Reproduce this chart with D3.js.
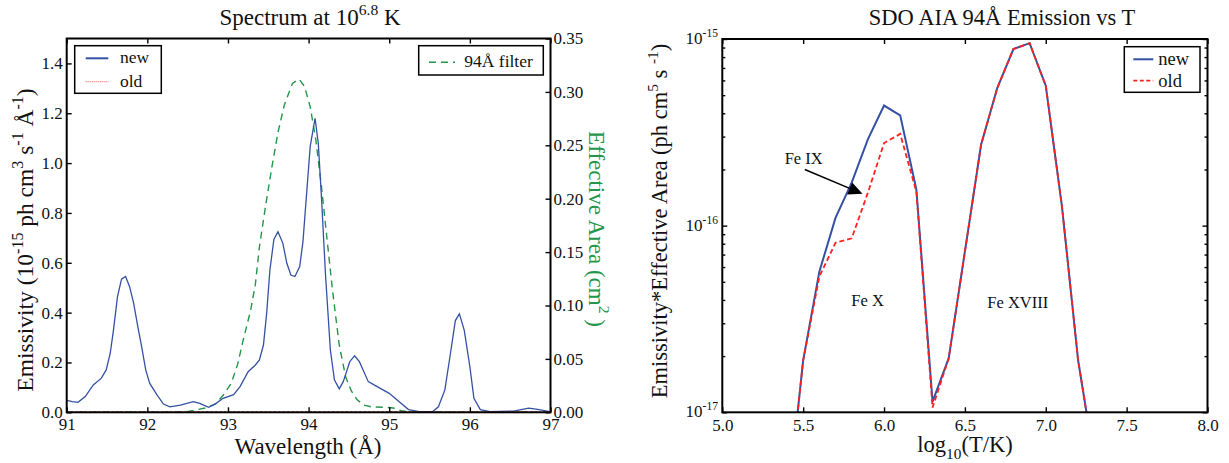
<!DOCTYPE html>
<html>
<head>
<meta charset="utf-8">
<script src="https://cdn.jsdelivr.net/npm/d3@7"></script>
<style>
body { margin: 0; background: #fff; }
svg text { font-family: "Liberation Serif", "Times New Roman", serif; fill: #111; }
svg .tick text { font-family: "Liberation Serif", "Times New Roman", serif !important; }
.tick line { stroke: #000; stroke-width: 1.4; }
</style>
</head>
<body>
<svg id="chartsvg" width="1229" height="463"></svg>
<script>
//Spectrum at 10^6.8 K: wavelength (A) and emissivity (1e-15 units)
var specWave = [91.00, 91.07, 91.14, 91.23, 91.33, 91.43, 91.49, 91.54, 91.58, 91.63, 91.68, 91.73, 91.78, 91.83, 91.89,
	91.93, 91.98, 92.03, 92.12, 92.20, 92.28, 92.41, 92.57, 92.65, 92.76, 92.84, 92.94, 93.07, 93.15, 93.25,
	93.34, 93.39, 93.44, 93.48, 93.52, 93.57, 93.62, 93.68, 93.73, 93.78, 93.83, 93.89, 93.93, 94.02, 94.08,
	94.12, 94.16, 94.21, 94.27, 94.32, 94.38, 94.43, 94.51, 94.57, 94.63, 94.74, 94.85, 95.00, 95.12, 95.24,
	95.37, 95.54, 95.61, 95.69, 95.76, 95.82, 95.87, 95.93, 96.00, 96.05, 96.13, 96.25, 96.54, 96.73, 96.84, 96.99];
var specNew = [0.048, 0.043, 0.040, 0.063, 0.110, 0.137, 0.170, 0.237, 0.330, 0.464, 0.534, 0.545, 0.504, 0.438, 0.330,
	0.263, 0.170, 0.116, 0.070, 0.033, 0.022, 0.029, 0.043, 0.036, 0.020, 0.033, 0.056, 0.071, 0.103, 0.163,
	0.190, 0.210, 0.270, 0.398, 0.571, 0.695, 0.725, 0.679, 0.598, 0.551, 0.545, 0.585, 0.685, 1.067, 1.180,
	1.080, 0.860, 0.550, 0.250, 0.130, 0.094, 0.123, 0.203, 0.227, 0.203, 0.123, 0.103, 0.076, 0.043, 0.011,
	0.003, 0.003, 0.022, 0.090, 0.238, 0.368, 0.395, 0.330, 0.183, 0.056, 0.011, 0.003, 0.005, 0.017, 0.012, 0.003];
var specOldWave = [91, 97];
var specOld = [0, 0];

//94A filter effective area (cm^2)
var filterWave = [91.00, 92.30, 92.52, 92.72, 92.85, 92.94, 93.04, 93.12, 93.19, 93.28, 93.34, 93.39, 93.47, 93.55,
	93.62, 93.70, 93.80, 93.88, 93.95, 94.02, 94.09, 94.16, 94.23, 94.30, 94.38, 94.46, 94.53, 94.60, 94.68,
	94.78, 94.95, 95.05, 95.15, 95.27, 97.00];
var filterArea = [0, 0, 0.001, 0.004, 0.008, 0.016, 0.027, 0.045, 0.068, 0.095, 0.120, 0.155, 0.195, 0.232,
	0.262, 0.288, 0.308, 0.312, 0.305, 0.286, 0.255, 0.211, 0.161, 0.112, 0.063, 0.033, 0.020, 0.012, 0.0068,
	0.005, 0.0047, 0.004, 0.0015, 0, 0];

//94A emission vs temperature
var emisTemp = [5.4, 5.5, 5.6, 5.7, 5.8, 5.9, 6.0, 6.1, 6.2, 6.3, 6.4, 6.5, 6.6, 6.7, 6.8, 6.9, 7.0, 7.1, 7.2, 7.3];
var emisNew = [2.9e-18, 1.9e-17, 5.67e-17, 1.1e-16, 1.7e-16, 2.9e-16, 4.4e-16, 3.9e-16, 1.56e-16, 1.14e-17,
	1.95e-17, 7.26e-17, 2.71e-16, 5.46e-16, 8.84e-16, 9.5e-16, 5.62e-16, 1.27e-16, 1.9e-17, 5.5e-18];
var emisOld = [2.9e-18, 1.9e-17, 5.33e-17, 8.1e-17, 8.55e-17, 1.5e-16, 2.77e-16, 3.1e-16, 1.52e-16, 1.06e-17,
	1.95e-17, 7.26e-17, 2.71e-16, 5.46e-16, 8.84e-16, 9.5e-16, 5.62e-16, 1.27e-16, 1.9e-17, 5.5e-18];

//Tick values
var waveTicks = [91, 92, 93, 94, 95, 96, 97];
var emisTicks = [0, 0.2, 0.4, 0.6, 0.8, 1.0, 1.2, 1.4];
var areaTicks = [0, 0.05, 0.10, 0.15, 0.20, 0.25, 0.30, 0.35];
var tempTicks = [5.0, 5.5, 6.0, 6.5, 7.0, 7.5, 8.0];
var logMajor = [1e-17, 1e-16, 1e-15];
var logMinor = [2e-17, 3e-17, 4e-17, 5e-17, 6e-17, 7e-17, 8e-17, 9e-17, 2e-16, 3e-16, 4e-16, 5e-16, 6e-16, 7e-16, 8e-16, 9e-16];

var Plots = {
	blue: "#3451a3",
	red: "#ff2020",
	green: "#23964a",
	svg: d3.select("#chartsvg"),

	//append text made of plain / sup / sub pieces
	RichText : function(el, parts, fs) {
		var shift = 0;
		parts.forEach(function(p) {
			var target = p[1] === "sup" ? -0.42 * fs : (p[1] === "sub" ? 0.3 * fs : 0);
			el.append("tspan")
				.attr("dy", target - shift)
				.style("font-size", (p[1] ? 0.68 * fs : fs) + "px")
				.text(p[0]);
			shift = target;
		});
		return el;
	},

	Frame : function(g, x0, y0, x1, y1) {
		g.append("rect").attr("x", x0).attr("y", y0).attr("width", x1 - x0).attr("height", y1 - y0)
			.attr("fill", "none").attr("stroke", "#000").attr("stroke-width", 2);
	},

	//strip d3 defaults from the axis groups
	CleanAxes : function(g) {
		g.selectAll(".domain").remove();
		g.selectAll("g").attr("font-family", null).attr("font-size", null);
		g.selectAll(".tick text").style("font-size", "17px").attr("fill", "#111");
	},

	Spectrum : function() {
		var pv = this;
		var g = this.svg.append("g").attr("class", "spectrum");
		var x = d3.scaleLinear().domain([91, 97]).range([66.7, 550.5]);
		var y = d3.scaleLinear().domain([0, 1.5]).range([412.3, 38.5]);
		var y2 = d3.scaleLinear().domain([0, 0.35]).range([412.3, 38.5]);

		g.append("clipPath").attr("id", "clipL").append("rect")
			.attr("x", 66.7).attr("y", 38.5).attr("width", 483.8).attr("height", 373.8);
		var plot = g.append("g").attr("clip-path", "url(#clipL)");

		//filter curve (twin axis)
		plot.append("path")
			.attr("d", d3.line().x(function(d, i) { return x(filterWave[i]); }).y(function(d) { return y2(d); })(filterArea))
			.attr("fill", "none").attr("stroke", pv.green).attr("stroke-width", 1.4).attr("stroke-dasharray", "7,5");
		plot.append("path")
			.attr("d", d3.line().x(function(d, i) { return x(specWave[i]); }).y(function(d) { return y(d); })(specNew))
			.attr("fill", "none").attr("stroke", pv.blue).attr("stroke-width", 1.3);
		plot.append("path")
			.attr("d", d3.line().x(function(d, i) { return x(specOldWave[i]); }).y(function(d) { return y(d); })(specOld))
			.attr("fill", "none").attr("stroke", pv.red).attr("stroke-width", 2.2).attr("stroke-dasharray", "2,2.5");

		//axes, ticks pointing inward
		var fmt1 = d3.format(".1f"), fmt2 = d3.format(".2f");
		g.append("g").attr("transform", "translate(0,412.3)")
			.call(d3.axisBottom(x).tickValues(waveTicks).tickFormat(d3.format("d")).tickSize(-5).tickPadding(6));
		g.append("g").attr("transform", "translate(0,38.5)")
			.call(d3.axisTop(x).tickValues(waveTicks).tickFormat("").tickSize(-5));
		g.append("g").attr("transform", "translate(66.7,0)")
			.call(d3.axisLeft(y).tickValues(emisTicks).tickFormat(fmt1).tickSize(-5).tickPadding(4));
		g.append("g").attr("class", "greenaxis").attr("transform", "translate(550.5,0)")
			.call(d3.axisRight(y2).tickValues(areaTicks).tickFormat(fmt2).tickSize(-5).tickPadding(3));
		this.CleanAxes(g);
		g.selectAll(".greenaxis .tick text").attr("fill", pv.green);
		this.Frame(g, 66.7, 38.5, 550.5, 412.3);

		//titles and labels
		this.RichText(g.append("text").attr("x", 310).attr("y", 25).attr("text-anchor", "middle"),
			[["Spectrum at 10"], ["6.8", "sup"], [" K"]], 23);
		this.RichText(g.append("text").attr("x", 308).attr("y", 454).attr("text-anchor", "middle"),
			[["Wavelength (Å)"]], 23);
		this.RichText(g.append("text").attr("transform", "translate(33,240)rotate(-90)").attr("text-anchor", "middle"),
			[["Emissivity (10"], ["-15", "sup"], [" ph cm"], ["3", "sup"], [" s"], ["-1", "sup"], [" Å"], ["-1", "sup"], [")"]], 23.5);
		this.RichText(g.append("text").attr("transform", "translate(589,229)rotate(90)").attr("text-anchor", "middle")
			.style("fill", pv.green), [["Effective Area (cm"], ["2", "sup"], [" )"]], 23);

		//legends
		var leg = g.append("g");
		leg.append("rect").attr("x", 74.7).attr("y", 45.7).attr("width", 86.6).attr("height", 47.6)
			.attr("fill", "#fff").attr("stroke", "#000").attr("stroke-width", 1.5);
		leg.append("line").attr("x1", 85.7).attr("x2", 108.3).attr("y1", 58.3).attr("y2", 58.3)
			.attr("stroke", pv.blue).attr("stroke-width", 2);
		leg.append("line").attr("x1", 85.7).attr("x2", 108.3).attr("y1", 81.7).attr("y2", 81.7)
			.attr("stroke", pv.red).attr("stroke-width", 0.8).attr("stroke-dasharray", "1,1");
		leg.append("text").attr("x", 120).attr("y", 63.3).style("font-size", "17.5px").text("new");
		leg.append("text").attr("x", 120).attr("y", 86.7).style("font-size", "17.5px").text("old");

		leg.append("rect").attr("x", 418.7).attr("y", 45.7).attr("width", 124.6).attr("height", 29.3)
			.attr("fill", "#fff").attr("stroke", "#000").attr("stroke-width", 1.5);
		leg.append("line").attr("x1", 429).attr("x2", 455).attr("y1", 62.3).attr("y2", 62.3)
			.attr("stroke", pv.green).attr("stroke-width", 1.6).attr("stroke-dasharray", "7,5");
		leg.append("text").attr("x", 464.3).attr("y", 67.3).style("font-size", "17.5px").text("94Å filter");
	},

	Emission : function() {
		var pv = this;
		var g = this.svg.append("g").attr("class", "emission");
		var x = d3.scaleLinear().domain([5, 8]).range([722.3, 1207.5]);
		var y = d3.scaleLog().domain([1e-17, 1e-15]).range([412.3, 39]);

		g.append("clipPath").attr("id", "clipR").append("rect")
			.attr("x", 722.3).attr("y", 39).attr("width", 485.2).attr("height", 373.3);
		var plot = g.append("g").attr("clip-path", "url(#clipR)");
		var line = d3.line().x(function(d, i) { return x(emisTemp[i]); }).y(function(d) { return y(d); });

		plot.append("path").attr("d", line(emisNew))
			.attr("fill", "none").attr("stroke", pv.blue).attr("stroke-width", 2);
		plot.append("path").attr("d", line(emisOld))
			.attr("fill", "none").attr("stroke", pv.red).attr("stroke-width", 1.8).attr("stroke-dasharray", "5,3");

		g.append("g").attr("transform", "translate(0,412.3)")
			.call(d3.axisBottom(x).tickValues(tempTicks).tickFormat(d3.format(".1f")).tickSize(-5).tickPadding(7));
		g.append("g").attr("transform", "translate(0,39)")
			.call(d3.axisTop(x).tickValues(tempTicks).tickFormat("").tickSize(-5));
		[[722.3, d3.axisLeft], [1207.5, d3.axisRight]].forEach(function(s) {
			g.append("g").attr("transform", "translate(" + s[0] + ",0)")
				.call(s[1](y).tickValues(logMajor).tickFormat("").tickSize(-5));
			g.append("g").attr("transform", "translate(" + s[0] + ",0)")
				.call(s[1](y).tickValues(logMinor).tickFormat("").tickSize(-3));
		});
		this.CleanAxes(g);

		//log labels 10^n
		logMajor.forEach(function(v) {
			pv.RichText(g.append("text").attr("x", 718).attr("y", y(v) + 5).attr("text-anchor", "end"),
				[["10"], [String(Math.round(Math.log10(v))), "sup"]], 17);
		});
		this.Frame(g, 722.3, 39, 1207.5, 412.3);

		this.RichText(g.append("text").attr("x", 1002).attr("y", 25).attr("text-anchor", "middle"),
			[["SDO AIA 94Å Emission vs T"]], 22.5);
		this.RichText(g.append("text").attr("x", 965).attr("y", 452).attr("text-anchor", "middle"),
			[["log"], ["10", "sub"], ["(T/K)"]], 22.5);
		this.RichText(g.append("text").attr("transform", "translate(667,221)rotate(-90)").attr("text-anchor", "middle"),
			[["Emissivity*Effective Area (ph cm"], ["5", "sup"], [" s "], ["-1", "sup"], [")"]], 22.5);

		//ion annotations
		g.append("text").attr("x", x(5.503)).attr("y", y(2.15e-16)).attr("text-anchor", "middle").style("font-size", "16.5px").text("Fe IX");
		g.append("text").attr("x", x(5.898)).attr("y", y(3.72e-17)).attr("text-anchor", "middle").style("font-size", "16.5px").text("Fe X");
		g.append("text").attr("x", x(6.827)).attr("y", y(3.62e-17)).attr("text-anchor", "middle").style("font-size", "16.5px").text("Fe XVIII");
		var ax0 = x(5.51), ay0 = y(2.0e-16), ax1 = x(5.867), ay1 = y(1.48e-16);
		var ang = Math.atan2(ay1 - ay0, ax1 - ax0), hl = 14, hw = 6.5;
		var bx = ax1 - hl * Math.cos(ang), by = ay1 - hl * Math.sin(ang);
		g.append("line").attr("x1", ax0).attr("y1", ay0).attr("x2", bx).attr("y2", by)
			.attr("stroke", "#000").attr("stroke-width", 1.5);
		g.append("path")
			.attr("d", "M" + ax1 + "," + ay1 + "L" + (bx - hw * Math.sin(ang)) + "," + (by + hw * Math.cos(ang)) +
				"L" + (bx + hw * Math.sin(ang)) + "," + (by - hw * Math.cos(ang)) + "Z")
			.attr("fill", "#000");

		//legend
		var leg = g.append("g");
		leg.append("rect").attr("x", 1124.3).attr("y", 46.7).attr("width", 75.7).attr("height", 45.6)
			.attr("fill", "#fff").attr("stroke", "#000").attr("stroke-width", 1.5);
		leg.append("line").attr("x1", 1133.3).attr("x2", 1153.3).attr("y1", 59.3).attr("y2", 59.3)
			.attr("stroke", pv.blue).attr("stroke-width", 2);
		leg.append("line").attr("x1", 1133.3).attr("x2", 1153.3).attr("y1", 80.7).attr("y2", 80.7)
			.attr("stroke", pv.red).attr("stroke-width", 1.8).attr("stroke-dasharray", "4,2.5");
		leg.append("text").attr("x", 1158.3).attr("y", 65).style("font-size", "18.5px").text("new");
		leg.append("text").attr("x", 1158.3).attr("y", 86.7).style("font-size", "18.5px").text("old");
	}
};

Plots.Spectrum();
Plots.Emission();
</script>
</body>
</html>
